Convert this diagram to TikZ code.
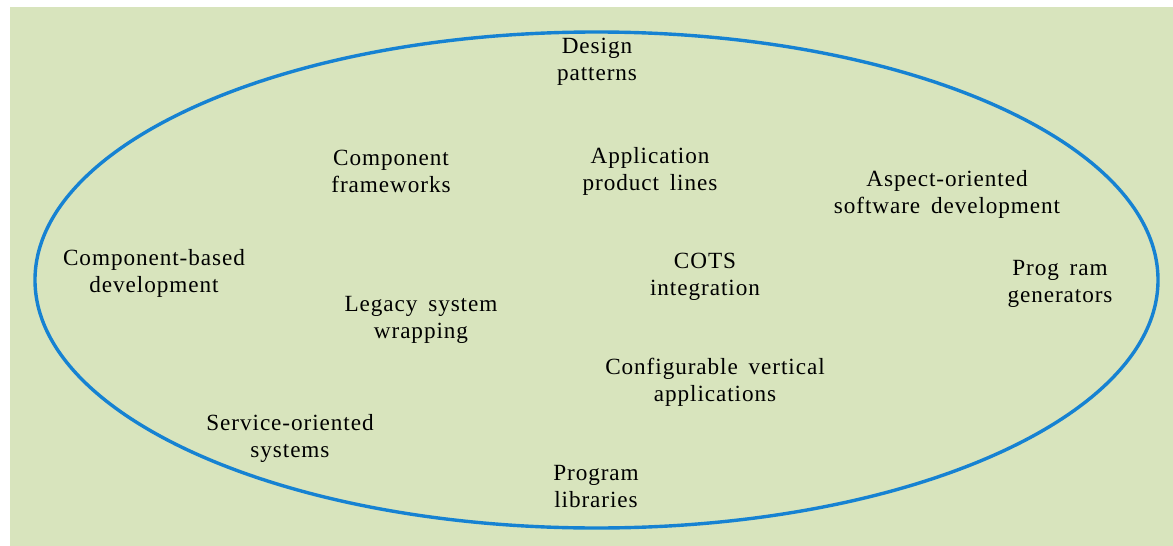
\documentclass[tikz,border=0pt]{standalone}
\usepackage{fontspec}
\setmainfont{Liberation Serif}[LetterSpace=4,WordSpace=1.6]
\definecolor{bggreen}{RGB}{216,228,189}
\definecolor{rimblue}{RGB}{22,130,210}
\tikzset{lbl/.style={align=center,font=\fontsize{11.6}{13.5}\selectfont,text=black,inner sep=0pt}}

\begin{document}
\begin{tikzpicture}[x=0.5pt,y=-0.5pt,line cap=round,line join=round]
		\useasboundingbox (0,0) rectangle (1173,546);
		\fill[bggreen] (10,7) rectangle (1173,546);
		\draw[rimblue,line width=1.7pt] (596.5,280) ellipse [x radius=561.5,y radius=248];
		\node[lbl] (design) at (597,62) {Design\\patterns};
		\node[lbl] (compfw) at (391,171) {Component\\frameworks};
		\node[lbl] (appline) at (650,171) {Application\\product lines};
		\node[lbl] (aspect) at (947,194) {Aspect-oriented\\software development};
		\node[lbl] (cbd) at (154,273) {Component-based\\development};
		\node[lbl] (cots) at (705,277) {COTS\\integration};
		\node[lbl] (proggen) at (1060,284) {Prog ram\\generators};
		\node[lbl] (legacy) at (421,320) {Legacy system\\wrapping};
		\node[lbl] (config) at (715,382) {Configurable vertical\\applications};
		\node[lbl] (soa) at (290,438) {Service-oriented\\systems};
		\node[lbl] (proglib) at (596,487) {Program\\libraries};
	\end{tikzpicture}
\end{document}
